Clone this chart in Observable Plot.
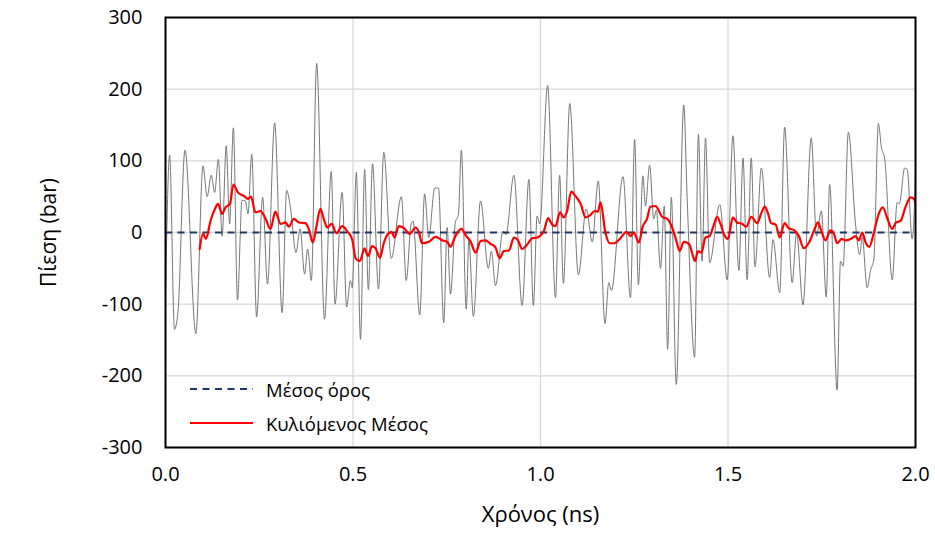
<!DOCTYPE html>
<html>
<head>
<meta charset="utf-8">
<script src="https://cdn.jsdelivr.net/npm/d3@7"></script>
<script src="https://cdn.jsdelivr.net/npm/@observablehq/plot@0.6"></script>
<style>
  body { margin: 0; background: #fff; font-family: "Open Sans", sans-serif; }
  #chart { position: relative; width: 935px; height: 533px; }
  #chart svg [aria-label="x-axis label"] text { font-size: 22px; }
  #chart svg [aria-label="y-axis label"] text { font-size: 21px; }
  .key { position: absolute; left: 190px; display: flex; align-items: center; font-size: 18.5px; color: #000; height: 24px; white-space: nowrap; }
  .key svg { margin-right: 13px; }
</style>
</head>
<body>
<div id="chart"></div>
<script>
// Pressure signal sampled over the 2 ns run (ns, bar)
const timeNs = [
  0.000, 0.011, 0.024, 0.033, 0.052, 0.081, 0.100, 0.111, 0.122, 0.131,
  0.141, 0.151, 0.162, 0.171, 0.181, 0.192, 0.204, 0.213, 0.220, 0.230,
  0.243, 0.259, 0.272, 0.291, 0.311, 0.323, 0.333, 0.348, 0.359, 0.371,
  0.379, 0.389, 0.403, 0.424, 0.442, 0.452, 0.471, 0.483, 0.493, 0.498,
  0.509, 0.520, 0.531, 0.541, 0.552, 0.568, 0.582, 0.602, 0.629, 0.642,
  0.655, 0.660, 0.678, 0.691, 0.702, 0.718, 0.728, 0.742, 0.751, 0.760,
  0.773, 0.781, 0.789, 0.802, 0.809, 0.821, 0.840, 0.861, 0.869, 0.880,
  0.900, 0.908, 0.929, 0.951, 0.969, 0.981, 0.991, 0.998, 1.019, 1.040,
  1.051, 1.061, 1.078, 1.101, 1.122, 1.138, 1.154, 1.172, 1.182, 1.189,
  1.220, 1.240, 1.251, 1.261, 1.273, 1.280, 1.291, 1.302, 1.309, 1.320,
  1.330, 1.339, 1.349, 1.362, 1.382, 1.391, 1.411, 1.421, 1.431, 1.440,
  1.451, 1.478, 1.498, 1.513, 1.529, 1.540, 1.551, 1.562, 1.572, 1.589,
  1.611, 1.620, 1.638, 1.651, 1.671, 1.683, 1.700, 1.722, 1.736, 1.749,
  1.762, 1.771, 1.791, 1.800, 1.807, 1.821, 1.840, 1.851, 1.858, 1.871,
  1.880, 1.889, 1.901, 1.909, 1.918, 1.938, 1.951, 1.957, 1.971, 1.978,
  1.991, 2.000
];
const pressure = [
  -90, 108, -135, -112, 115, -141, 93, 50, 80, 56,
  102, -5, 121, 12, 146, -94, 45, 44, 26, 109,
  -118, 49, -72, 153, -112, 59, 35, -28, 5, -58,
  -23, -67, 236, -121, 85, -100, 56, -104, -67, -77,
  84, -149, 88, -80, 96, -79, 112, -36, 50, -67,
  12, 16, -115, 54, -7, 62, 62, -126, 7, -86,
  14, 25, 115, -107, -10, -117, 44, -50, -26, -74,
  2, -3, 80, -102, 74, -102, 23, 12, 205, -91,
  80, -71, 180, -59, 33, -13, 72, -127, -70, -81,
  78, -91, 130, -73, 79, 37, 94, 19, 31, -50,
  37, -163, 49, -212, 178, 49, -174, 137, -40, 132,
  -42, 39, -66, 135, -53, 104, -66, 104, -48, 90,
  -63, -10, -84, 147, -70, -1, -101, 132, -5, 30,
  -90, 67, -220, -40, -47, 140, 12, -31, -7, -77,
  -53, -37, 152, 119, 102, -66, 42, 40, 90, 88,
  -9, 74
];

// Rolling mean of the pressure (ns, bar)
const rollTimeNs = [
  0.091, 0.100, 0.108, 0.120, 0.132, 0.140, 0.151, 0.160, 0.172, 0.181,
  0.193, 0.209, 0.220, 0.228, 0.240, 0.253, 0.267, 0.280, 0.293, 0.307,
  0.320, 0.329, 0.342, 0.356, 0.373, 0.382, 0.393, 0.402, 0.413, 0.422,
  0.431, 0.443, 0.456, 0.471, 0.484, 0.498, 0.507, 0.518, 0.531, 0.540,
  0.551, 0.560, 0.572, 0.582, 0.593, 0.602, 0.611, 0.622, 0.636, 0.651,
  0.667, 0.676, 0.684, 0.702, 0.720, 0.738, 0.751, 0.760, 0.773, 0.789,
  0.802, 0.813, 0.827, 0.840, 0.853, 0.867, 0.880, 0.891, 0.902, 0.916,
  0.929, 0.940, 0.951, 0.964, 0.978, 0.991, 1.000, 1.009, 1.020, 1.031,
  1.040, 1.052, 1.062, 1.071, 1.082, 1.093, 1.107, 1.120, 1.132, 1.145,
  1.153, 1.160, 1.173, 1.185, 1.196, 1.213, 1.229, 1.240, 1.249, 1.262,
  1.273, 1.284, 1.293, 1.307, 1.316, 1.324, 1.338, 1.351, 1.362, 1.371,
  1.382, 1.396, 1.404, 1.412, 1.420, 1.429, 1.440, 1.451, 1.460, 1.471,
  1.480, 1.489, 1.500, 1.513, 1.524, 1.538, 1.549, 1.562, 1.578, 1.588,
  1.598, 1.607, 1.615, 1.627, 1.638, 1.651, 1.662, 1.677, 1.689, 1.702,
  1.716, 1.729, 1.740, 1.749, 1.760, 1.773, 1.782, 1.791, 1.803, 1.813,
  1.827, 1.840, 1.849, 1.858, 1.867, 1.877, 1.889, 1.902, 1.913, 1.924,
  1.938, 1.948, 1.960, 1.973, 1.987, 1.996, 2.000
];
const rollMean = [
  -23, -2, -9, 16, 33, 40, 26, 35, 40, 67,
  56, 51, 47, 50, 28, 30, 19, 5, 29, 12,
  14, 8, 19, 14, 13, 5, -14, 7, 33, 19,
  7, 12, -1, 9, 2, -10, -36, -40, -22, -33,
  -19, -22, -35, -15, -2, 1, -7, 9, 6, -2,
  7, 0, -15, -13, -6, -11, -13, -20, -5, 5,
  -5, -12, -28, -12, -11, -16, -21, -36, -26, -25,
  -7, -11, -23, -17, -8, -7, -4, 2, 20, 11,
  9, 28, 21, 30, 57, 51, 40, 21, 24, 30,
  29, 42, 0, -15, -15, -8, 1, -5, 0, -14,
  9, 19, 36, 37, 30, 22, 19, 7, -11, -26,
  -13, -16, -28, -40, -26, -28, -7, -5, 7, 22,
  12, -2, -9, 21, 14, 12, 8, 22, 13, 26,
  36, 26, 13, 11, -7, 13, 6, 3, -5, -22,
  -14, 2, 14, 2, -11, 3, -1, -15, -9, -11,
  -9, -5, -11, 0, -14, -20, 0, 26, 35, 21,
  5, 14, 16, 35, 49, 47, 40
];

// Overall mean pressure (bar)
const meanPressure = 0;

const xTicks = [0, 0.5, 1.0, 1.5, 2.0];
const yTicks = [-300, -200, -100, 0, 100, 200, 300];

const legendItems = [
  { label: "Μέσος όρος", color: "#1f3864", dash: "7,5.5" },
  { label: "Κυλιόμενος Μέσος", color: "#ff0000", dash: null }
];

const signal = timeNs.map((t, i) => ({ t, p: pressure[i] }));
const rolling = rollTimeNs.map((t, i) => ({ t, p: rollMean[i] }));

const chart = Plot.plot({
  width: 935,
  height: 533,
  marginLeft: 165,
  marginRight: 20,
  marginTop: 17,
  marginBottom: 86,
  style: { fontFamily: "Open Sans, sans-serif", fontSize: "20px", color: "#000", background: "#fff" },
  x: { domain: [0, 2] },
  y: { domain: [-300, 300] },
  marks: [
    Plot.gridX(xTicks, { stroke: "#d9d9d9", strokeOpacity: 1, strokeWidth: 1.3 }),
    Plot.gridY(yTicks, { stroke: "#d9d9d9", strokeOpacity: 1, strokeWidth: 1.3 }),
    Plot.line(signal, { x: "t", y: "p", stroke: "#777777", strokeWidth: 1, curve: "monotone-x", clip: true }),
    Plot.ruleY([meanPressure], { stroke: "#1f3864", strokeWidth: 2, strokeDasharray: "7,5.5" }),
    Plot.line(rolling, { x: "t", y: "p", stroke: "#ff0000", strokeWidth: 2.2, curve: "monotone-x", clip: true }),
    Plot.frame({ stroke: "#000", strokeWidth: 2 }),
    Plot.axisX(xTicks, {
      tickSize: 0, tickPadding: 19, tickFormat: d => d.toFixed(1),
      label: "Χρόνος (ns)", labelAnchor: "center", labelArrow: "none", labelOffset: 74
    }),
    Plot.axisY(yTicks, {
      tickSize: 0, tickPadding: 23, tickFormat: d => String(d),
      label: "Πίεση (bar)", labelAnchor: "center", labelArrow: "none", labelOffset: 124
    })
  ]
});

const host = document.getElementById("chart");
host.appendChild(chart);

// Legend drawn inside the plotting area, lower left
const legendCenters = [389, 423];
legendItems.forEach((item, i) => {
  const row = document.createElement("div");
  row.className = "key";
  row.style.top = (legendCenters[i] - 12) + "px";
  const svgNS = "http://www.w3.org/2000/svg";
  const s = document.createElementNS(svgNS, "svg");
  s.setAttribute("width", 63);
  s.setAttribute("height", 4);
  const ln = document.createElementNS(svgNS, "line");
  ln.setAttribute("x1", 0); ln.setAttribute("x2", 63);
  ln.setAttribute("y1", 2); ln.setAttribute("y2", 2);
  ln.setAttribute("stroke", item.color);
  ln.setAttribute("stroke-width", 2);
  if (item.dash) ln.setAttribute("stroke-dasharray", item.dash);
  s.appendChild(ln);
  row.appendChild(s);
  const txt = document.createElement("span");
  txt.textContent = item.label;
  row.appendChild(txt);
  host.appendChild(row);
});
</script>
</body>
</html>
